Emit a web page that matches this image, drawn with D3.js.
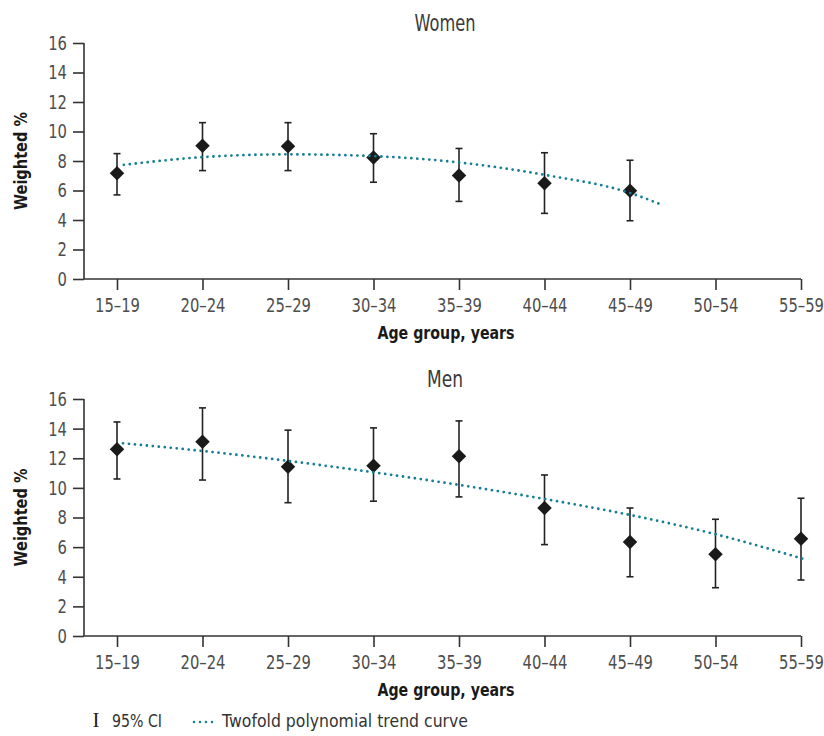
<!DOCTYPE html>
<html lang="en">
<head>
<meta charset="UTF-8">
<title>Weighted % by age group</title>
<script src="https://d3js.org/d3.v7.min.js"></script>
<style>
  body { margin: 0; background: #fff; }
  text { font-family: "DejaVu Sans", sans-serif; }
  .tick text { fill: #4d4d4d; font-size: 20px; }
  .axis path, .axis line { stroke: #333; stroke-width: 1.6px; }
  .ptitle { fill: #3a3a3a; font-size: 23px; }
  .atitle { fill: #1a1a1a; font-size: 18px; font-weight: bold; }
  .legend { fill: #333; font-size: 17px; }
</style>
</head>
<body>
<div id="chart"></div>
<script>
const ageGroups = ["15–19", "20–24", "25–29", "30–34", "35–39", "40–44", "45–49", "50–54", "55–59"];
const yTicks = [0, 2, 4, 6, 8, 10, 12, 14, 16];

// women (no data beyond 45–49)
const womenValue = [7.17, 9.03, 9.0, 8.24, 7.01, 6.49, 5.99];
const womenLow   = [5.7, 7.35, 7.35, 6.56, 5.26, 4.45, 3.95];
const womenHigh  = [8.5, 10.6, 10.6, 9.85, 8.85, 8.56, 8.05];
const womenTrendX = [0.08, 1, 2, 3, 4, 5, 6, 6.35];
const womenTrendY = [7.74, 8.26, 8.45, 8.33, 7.9, 7.06, 5.83, 5.08];

// men
const menValue = [12.6, 13.12, 11.43, 11.5, 12.13, 8.64, 6.35, 5.52, 6.57];
const menLow   = [10.6, 10.53, 9.0, 9.1, 9.39, 6.17, 4.0, 3.26, 3.78];
const menHigh  = [14.45, 15.4, 13.9, 14.05, 14.52, 10.87, 8.64, 7.88, 9.3];
const menTrendX = [0.07, 1, 2, 3, 4, 5, 6, 7, 8, 8.07];
const menTrendY = [13.01, 12.49, 11.82, 11.05, 10.2, 9.25, 8.17, 6.87, 5.25, 5.13];

const width = 824, height = 736;
const teal = "#137e94";

const svg = d3.select("#chart").append("svg")
  .attr("width", width)
  .attr("height", height);

const x = d3.scalePoint().domain(ageGroups).range([117, 801]);
const xIdx = d3.scaleLinear().domain([0, ageGroups.length - 1]).range([117, 801]);
const axisLeft = 84;

// squeeze a text horizontally to a given width (the original uses a condensed face)
function fit(sel, w) {
  sel.attr("textLength", w).attr("lengthAdjust", "spacingAndGlyphs");
}

let tickScale = null;

function panel(title, top, bottom, values, lows, highs, trendX, trendY) {
  const y = d3.scaleLinear().domain([0, 16]).range([bottom, top]);
  const g = svg.append("g");

  g.append("text").attr("class", "ptitle")
    .attr("x", 445).attr("y", top - 12)
    .attr("text-anchor", "middle").text(title)
    .call(fit, title === "Women" ? 61 : 36);

  const ya = g.append("g").attr("class", "axis")
    .attr("transform", `translate(${axisLeft},0)`)
    .call(d3.axisLeft(y).tickValues(yTicks).tickSize(11).tickSizeOuter(0).tickPadding(6))
    .call(a => a.select(".domain").attr("d", `M0,${top}V${bottom}`));

  const xa = g.append("g").attr("class", "axis")
    .attr("transform", `translate(0,${bottom})`)
    .call(d3.axisBottom(x).tickSize(11).tickSizeOuter(0).tickPadding(8))
    .call(a => a.select(".domain").attr("d", `M${axisLeft},0H${x(ageGroups[ageGroups.length - 1])}`));

  if (tickScale === null) {
    const w = xa.select(".tick text").node().getComputedTextLength();
    tickScale = 45 / w;
  }
  xa.selectAll(".tick text").attr("transform", `scale(${tickScale},1)`);
  ya.selectAll(".tick text")
    .attr("x", -17 / tickScale)
    .attr("transform", `scale(${tickScale},1)`);

  g.append("text").attr("class", "atitle")
    .attr("transform", `translate(27,${(top + bottom) / 2}) rotate(-90)`)
    .attr("text-anchor", "middle").text("Weighted %")
    .call(fit, 98);

  g.append("text").attr("class", "atitle")
    .attr("x", 446).attr("y", bottom + 60)
    .attr("text-anchor", "middle").text("Age group, years")
    .call(fit, 137);

  // error bars
  const eb = g.append("g").attr("stroke", "#222").attr("stroke-width", 1.6);
  values.forEach((v, i) => {
    const cx = x(ageGroups[i]);
    eb.append("line").attr("x1", cx).attr("x2", cx).attr("y1", y(lows[i])).attr("y2", y(highs[i]));
    eb.append("line").attr("x1", cx - 3.5).attr("x2", cx + 3.5).attr("y1", y(lows[i])).attr("y2", y(lows[i]));
    eb.append("line").attr("x1", cx - 3.5).attr("x2", cx + 3.5).attr("y1", y(highs[i])).attr("y2", y(highs[i]));
  });

  // diamonds
  const sym = d3.symbol().type(d3.symbolSquare).size(105);
  g.append("g").selectAll("path")
    .data(values)
    .join("path")
    .attr("d", sym)
    .attr("fill", "#1a1a1a")
    .attr("transform", (d, i) => `translate(${x(ageGroups[i])},${y(d)}) rotate(45)`);

  // trend curve
  const line = d3.line()
    .x(d => xIdx(d[0]))
    .y(d => y(d[1]))
    .curve(d3.curveMonotoneX);
  g.append("path")
    .datum(trendX.map((t, i) => [t, trendY[i]]))
    .attr("d", line)
    .attr("fill", "none")
    .attr("stroke", teal)
    .attr("stroke-width", 2.8)
    .attr("stroke-linecap", "round")
    .attr("stroke-dasharray", "0 6");
}

panel("Women", 43, 279, womenValue, womenLow, womenHigh, womenTrendX, womenTrendY);
panel("Men", 399, 636, menValue, menLow, menHigh, menTrendX, menTrendY);

// legend
const lg = svg.append("g").attr("transform", "translate(0,727)");
lg.append("text").attr("x", 96).attr("y", 0)
  .attr("text-anchor", "middle")
  .style("font-family", "'Liberation Serif', serif").style("font-size", "21px")
  .attr("fill", "#222").text("I");
lg.append("text").attr("class", "legend").attr("x", 112).attr("y", 0)
  .text("95% CI").call(fit, 50);
lg.append("line").attr("x1", 194).attr("x2", 218).attr("y1", -5).attr("y2", -5)
  .attr("stroke", teal).attr("stroke-width", 2.6)
  .attr("stroke-linecap", "round").attr("stroke-dasharray", "0 6");
lg.append("text").attr("class", "legend").attr("x", 222).attr("y", 0)
  .text("Twofold polynomial trend curve").call(fit, 246);
</script>
</body>
</html>
